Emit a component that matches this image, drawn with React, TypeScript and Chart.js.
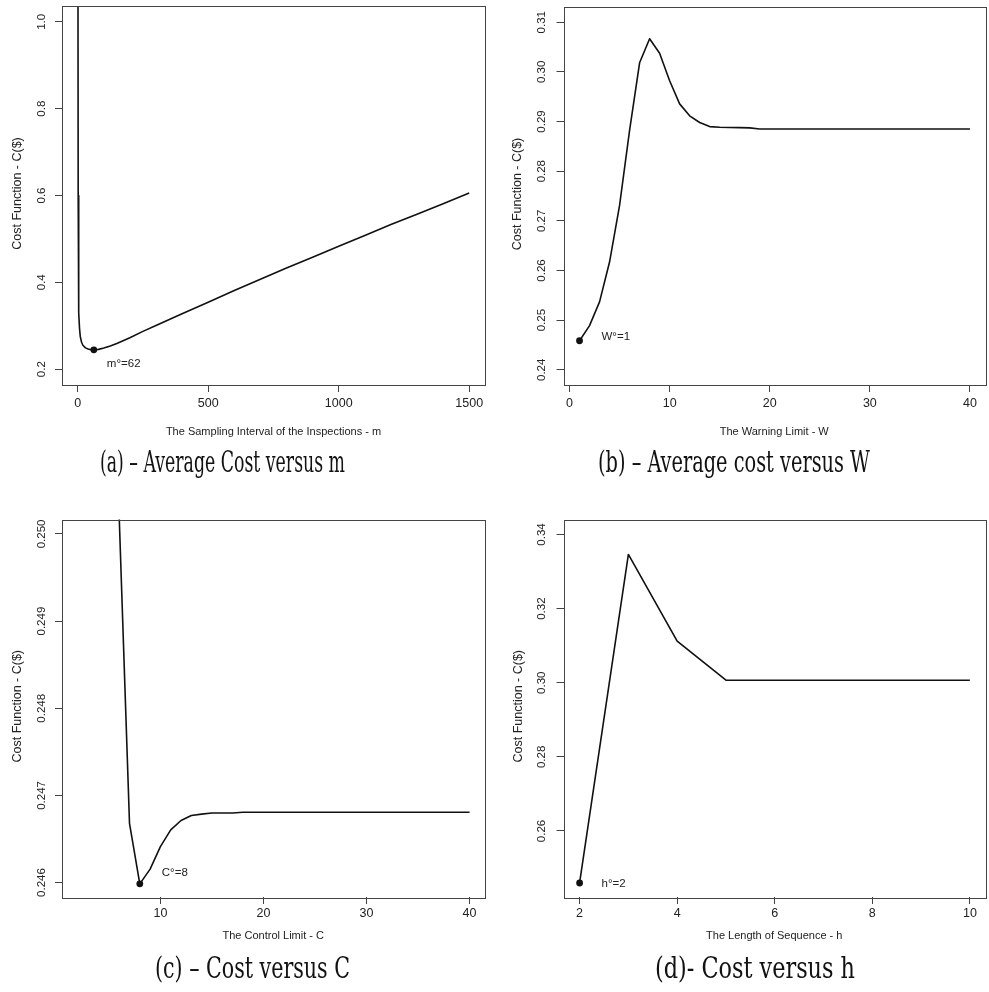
import React, { useEffect, useLayoutEffect, useRef } from "react";
import { Chart, registerables } from "chart.js";

Chart.register(...registerables);

// ---------- Panel (a): cost versus sampling interval m ----------
const mValues = [1, 2, 3, 4, 5, 7, 10, 15, 20, 30, 40, 50, 62, 80, 100, 125, 150, 200, 250, 300, 400, 500, 600, 700, 800, 900, 1000, 1100, 1200, 1300, 1400, 1500];
const costVsM = [1.2, 0.6, 0.45, 0.37, 0.33, 0.295, 0.275, 0.262, 0.255, 0.249, 0.2465, 0.245, 0.2445, 0.2455, 0.2485, 0.2535, 0.259, 0.2725, 0.287, 0.3005, 0.3275, 0.354, 0.381, 0.407, 0.433, 0.458, 0.483, 0.508, 0.533, 0.557, 0.581, 0.6055];
const mTicks = [0, 500, 1000, 1500];
const mTickLabels = ["0", "500", "1000", "1500"];
const costMTicks = [0.2, 0.4, 0.6, 0.8, 1.0];
const costMTickLabels = ["0.2", "0.4", "0.6", "0.8", "1.0"];

// ---------- Panel (b): cost versus warning limit W ----------
const wValues = [1, 2, 3, 4, 5, 6, 7, 8, 9, 10, 11, 12, 13, 14, 15, 16, 17, 18, 19, 20, 21, 22, 23, 24, 25, 26, 27, 28, 29, 30, 31, 32, 33, 34, 35, 36, 37, 38, 39, 40];
const costVsW = [0.24585, 0.2489, 0.25367, 0.2617, 0.2731, 0.2882, 0.30182, 0.30667, 0.30375, 0.2982, 0.29355, 0.29115, 0.2898, 0.28898, 0.28885, 0.28878, 0.28876, 0.28872, 0.2885, 0.2885, 0.2885, 0.2885, 0.2885, 0.2885, 0.2885, 0.2885, 0.2885, 0.2885, 0.2885, 0.2885, 0.2885, 0.2885, 0.2885, 0.2885, 0.2885, 0.2885, 0.2885, 0.2885, 0.2885, 0.2885];
const wTicks = [0, 10, 20, 30, 40];
const wTickLabels = ["0", "10", "20", "30", "40"];
const costWTicks = [0.24, 0.25, 0.26, 0.27, 0.28, 0.29, 0.3, 0.31];
const costWTickLabels = ["0.24", "0.25", "0.26", "0.27", "0.28", "0.29", "0.30", "0.31"];

// ---------- Panel (c): cost versus control limit C ----------
const cValues = [2, 3, 4, 5, 6, 7, 8, 9, 10, 11, 12, 13, 14, 15, 16, 17, 18, 19, 20, 21, 22, 23, 24, 25, 26, 27, 28, 29, 30, 31, 32, 33, 34, 35, 36, 37, 38, 39, 40];
const costVsC = [0.262, 0.258, 0.255, 0.2525, 0.2502, 0.24668, 0.245985, 0.246154, 0.246413, 0.246605, 0.246712, 0.246769, 0.246785, 0.246798, 0.246798, 0.246798, 0.246806, 0.246806, 0.246806, 0.246806, 0.246806, 0.246806, 0.246806, 0.246806, 0.246806, 0.246806, 0.246806, 0.246806, 0.246806, 0.246806, 0.246806, 0.246806, 0.246806, 0.246806, 0.246806, 0.246806, 0.246806, 0.246806, 0.246806];
const cTicks = [10, 20, 30, 40];
const cTickLabels = ["10", "20", "30", "40"];
const costCTicks = [0.246, 0.247, 0.248, 0.249, 0.25];
const costCTickLabels = ["0.246", "0.247", "0.248", "0.249", "0.250"];

// ---------- Panel (d): cost versus sequence length h ----------
const hValues = [2, 3, 4, 5, 6, 7, 8, 9, 10];
const costVsH = [0.24596, 0.33462, 0.31121, 0.30069, 0.30069, 0.30069, 0.30069, 0.30069, 0.30069];
const hTicks = [2, 4, 6, 8, 10];
const hTickLabels = ["2", "4", "6", "8", "10"];
const costHTicks = [0.26, 0.28, 0.3, 0.32, 0.34];
const costHTickLabels = ["0.26", "0.28", "0.30", "0.32", "0.34"];

const yTitleText = "Cost Function - C($)";
const FONT = '"Liberation Sans", Arial, Helvetica, sans-serif';
const CAP_FONT = '"DejaVu Serif Condensed", "DejaVu Serif", "Liberation Serif", serif';

type PanelSpec = {
  xs: number[];
  ys: number[];
  xRange: [number, number];
  yRange: [number, number];
  xTicks: number[];
  xTickLabels: string[];
  yTicks: number[];
  yTickLabels: string[];
  xTitle: string;
  optX: number;
  optLabel: string;
  labelDx: number;
  labelDy: number;
  box: { left: number; top: number; width: number; height: number };
  area: { yAxisW: number; padTop: number; padRight: number; xAxisH: number };
  off: { yLab: number; yTitle: number; xLab: number; xTitle: number };
};

const panels: PanelSpec[] = [
  {
    xs: mValues, ys: costVsM, xRange: [-60, 1560.5], yRange: [0.1635, 1.0365],
    xTicks: mTicks, xTickLabels: mTickLabels, yTicks: costMTicks, yTickLabels: costMTickLabels,
    xTitle: "The Sampling Interval of the Inspections - m", optX: 62, optLabel: "m°=62", labelDx: 13, labelDy: 14,
    box: { left: 0, top: 0, width: 494, height: 445 },
    area: { yAxisW: 62, padTop: 6, padRight: 9, xAxisH: 60 },
    off: { yLab: 20.5, yTitle: 44, xLab: 19, xTitle: 47 },
  },
  {
    xs: wValues, ys: costVsW, xRange: [-0.6, 41.5], yRange: [0.23694, 0.31306],
    xTicks: wTicks, xTickLabels: wTickLabels, yTicks: costWTicks, yTickLabels: costWTickLabels,
    xTitle: "The Warning Limit - W", optX: 1, optLabel: "W°=1", labelDx: 22, labelDy: -4,
    box: { left: 495, top: 0, width: 494, height: 445 },
    area: { yAxisW: 68.5, padTop: 7, padRight: 3.5, xAxisH: 60 },
    off: { yLab: 21.5, yTitle: 45.5, xLab: 19, xTitle: 47 },
  },
  {
    xs: cValues, ys: costVsC, xRange: [0.45, 41.45], yRange: [0.245834, 0.250166],
    xTicks: cTicks, xTickLabels: cTickLabels, yTicks: costCTicks, yTickLabels: costCTickLabels,
    xTitle: "The Control Limit - C", optX: 8, optLabel: "C°=8", labelDx: 22, labelDy: -11,
    box: { left: 0, top: 500, width: 494, height: 455 },
    area: { yAxisW: 62, padTop: 19.5, padRight: 9.5, xAxisH: 58 },
    off: { yLab: 20.5, yTitle: 44, xLab: 17, xTitle: 39 },
  },
  {
    xs: hValues, ys: costVsH, xRange: [1.67, 10.31], yRange: [0.24218, 0.34405],
    xTicks: hTicks, xTickLabels: hTickLabels, yTicks: costHTicks, yTickLabels: costHTickLabels,
    xTitle: "The Length of Sequence - h", optX: 2, optLabel: "h°=2", labelDx: 22, labelDy: 1,
    box: { left: 495, top: 500, width: 494, height: 455 },
    area: { yAxisW: 68.5, padTop: 19.5, padRight: 3, xAxisH: 58 },
    off: { yLab: 21.5, yTitle: 45, xLab: 17, xTitle: 39 },
  },
];

const captions = [
  { text: "(a) – Average Cost versus m", left: 100, width: 245, baseline: 473 },
  { text: "(b) – Average cost versus W", left: 598, width: 272, baseline: 473 },
  { text: "(c) – Cost versus C", left: 155, width: 195, baseline: 979 },
  { text: "(d)- Cost versus h", left: 655, width: 200, baseline: 979 },
];

const TEXT_COLOR = "#222";
const AXIS_COLOR = "#444";

function makeTextPlugin(p: PanelSpec) {
  return {
    id: "rStyleText",
    afterDraw(chart: any) {
      const ctx = chart.ctx as CanvasRenderingContext2D;
      const a = chart.chartArea;
      const xs = chart.scales.x;
      const ys = chart.scales.y;
      ctx.save();
      // box
      ctx.strokeStyle = AXIS_COLOR;
      ctx.lineWidth = 1;
      ctx.strokeRect(Math.round(a.left) + 0.5, Math.round(a.top) + 0.5, Math.round(a.right - a.left), Math.round(a.bottom - a.top));
      ctx.fillStyle = TEXT_COLOR;
      // x tick labels
      ctx.font = `12.5px ${FONT}`;
      ctx.textAlign = "center";
      ctx.textBaseline = "middle";
      p.xTicks.forEach((v, i) => {
        ctx.fillText(p.xTickLabels[i], xs.getPixelForValue(v), a.bottom + p.off.xLab);
      });
      // x title
      ctx.font = `11px ${FONT}`;
      ctx.fillText(p.xTitle, (a.left + a.right) / 2, a.bottom + p.off.xTitle);
      // y tick labels (rotated)
      ctx.font = `11.5px ${FONT}`;
      p.yTicks.forEach((v, i) => {
        ctx.save();
        ctx.translate(a.left - p.off.yLab, ys.getPixelForValue(v));
        ctx.rotate(-Math.PI / 2);
        ctx.fillText(p.yTickLabels[i], 0, 0);
        ctx.restore();
      });
      // y title
      ctx.font = `12.5px ${FONT}`;
      ctx.save();
      ctx.translate(a.left - p.off.yTitle, (a.top + a.bottom) / 2 - 2);
      ctx.rotate(-Math.PI / 2);
      ctx.fillText(yTitleText, 0, 0);
      ctx.restore();
      // optimum label
      const idx = p.xs.indexOf(p.optX);
      ctx.font = `11.5px ${FONT}`;
      ctx.textAlign = "left";
      ctx.fillText(p.optLabel, xs.getPixelForValue(p.optX) + p.labelDx, ys.getPixelForValue(p.ys[idx]) + p.labelDy);
      ctx.restore();
    },
  };
}

function Panel({ p }: { p: PanelSpec }) {
  const ref = useRef<HTMLCanvasElement>(null);
  useEffect(() => {
    if (!ref.current) return;
    const idx = p.xs.indexOf(p.optX);
    const chart = new Chart(ref.current, {
      type: "line",
      data: {
        datasets: [
          {
            data: p.xs.map((x, i) => ({ x, y: p.ys[i] })),
            borderColor: "#111",
            borderWidth: 1.6,
            pointRadius: 0,
            tension: 0,
            fill: false,
            borderJoinStyle: "round",
          },
          {
            data: [{ x: p.optX, y: p.ys[idx] }],
            showLine: false,
            pointRadius: 3.4,
            pointBackgroundColor: "#111",
            pointBorderColor: "#111",
            pointBorderWidth: 0,
          },
        ],
      },
      options: {
        animation: false,
        responsive: false,
        maintainAspectRatio: false,
        events: [],
        layout: { padding: { left: 0, top: p.area.padTop, right: p.area.padRight, bottom: 0 } },
        plugins: { legend: { display: false }, tooltip: { enabled: false }, title: { display: false } },
        scales: {
          x: {
            type: "linear",
            min: p.xRange[0],
            max: p.xRange[1],
            afterBuildTicks: (s: any) => {
              s.ticks = p.xTicks.map((v) => ({ value: v }));
            },
            afterFit: (s: any) => {
              s.height = p.area.xAxisH;
            },
            grid: { drawOnChartArea: false, drawTicks: true, tickLength: 7, color: AXIS_COLOR, lineWidth: 1 },
            border: { display: false },
            ticks: { display: false },
          },
          y: {
            type: "linear",
            min: p.yRange[0],
            max: p.yRange[1],
            afterBuildTicks: (s: any) => {
              s.ticks = p.yTicks.map((v) => ({ value: v }));
            },
            afterFit: (s: any) => {
              s.width = p.area.yAxisW;
            },
            grid: { drawOnChartArea: false, drawTicks: true, tickLength: 7, color: AXIS_COLOR, lineWidth: 1 },
            border: { display: false },
            ticks: { display: false },
          },
        },
      },
      plugins: [makeTextPlugin(p)],
    } as any);
    return () => chart.destroy();
  }, [p]);
  return (
    <canvas
      ref={ref}
      width={p.box.width}
      height={p.box.height}
      style={{ position: "absolute", left: p.box.left, top: p.box.top, width: p.box.width, height: p.box.height }}
    />
  );
}

function Caption({ text, left, width, baseline }: { text: string; left: number; width: number; baseline: number }) {
  const ref = useRef<HTMLSpanElement>(null);
  const size = 30;
  useLayoutEffect(() => {
    const el = ref.current;
    if (!el) return;
    el.style.transform = "none";
    const w = el.getBoundingClientRect().width;
    if (w > 0) el.style.transform = `scaleX(${width / w})`;
  }, [text, width]);
  return (
    <span
      ref={ref}
      style={{
        position: "absolute",
        left,
        top: baseline - 26,
        fontFamily: CAP_FONT,
        fontSize: size,
        lineHeight: 1,
        whiteSpace: "nowrap",
        transformOrigin: "0 0",
        color: "#111",
      }}
    >
      {text}
    </span>
  );
}

export default function App() {
  return (
    <div style={{ position: "absolute", left: 0, top: 0, width: 989, height: 992, background: "#fff", overflow: "hidden" }}>
      {panels.map((p, i) => (
        <Panel key={i} p={p} />
      ))}
      {captions.map((c, i) => (
        <Caption key={i} {...c} />
      ))}
    </div>
  );
}
